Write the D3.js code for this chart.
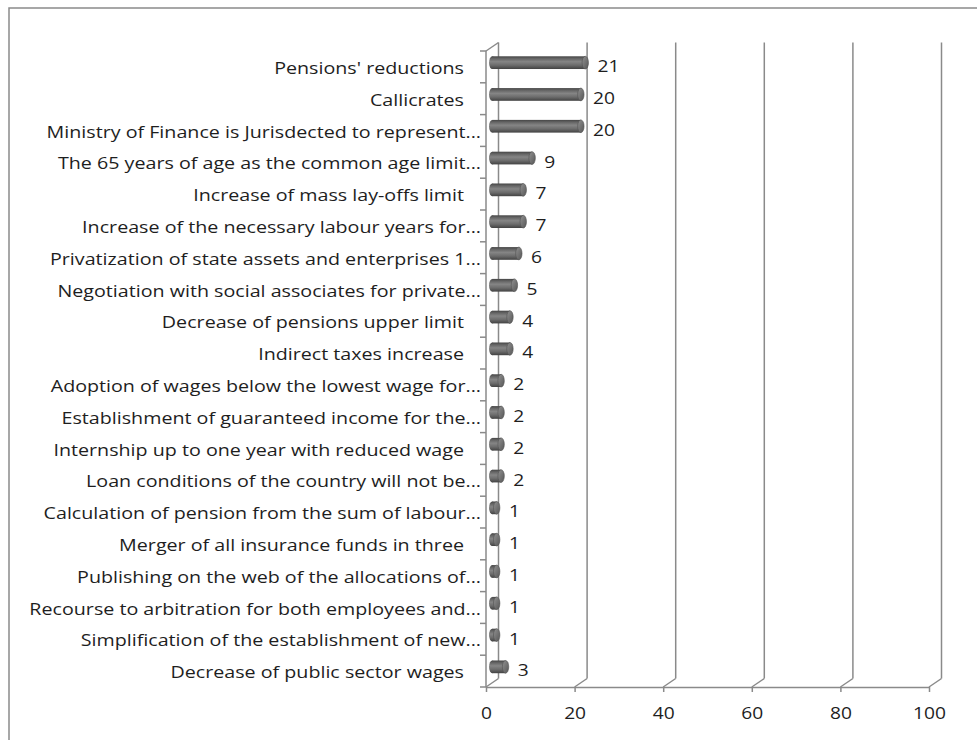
<!DOCTYPE html>
<html>
<head>
<meta charset="utf-8">
<script src="https://cdn.jsdelivr.net/npm/d3@7"></script>
<style>
  body { margin: 0; background: #fff; }
  svg text { font-family: "Open Sans", "Noto Sans", sans-serif; fill: #1e1e1e; }
</style>
</head>
<body>
<div id="chart"></div>
<script>
// data, top to bottom as shown
const categories = [
  "Pensions' reductions",
  "Callicrates",
  "Ministry of Finance is Jurisdected to represent...",
  "The 65 years of age as the common age limit...",
  "Increase of mass lay-offs limit",
  "Increase of the necessary labour years for...",
  "Privatization of state assets and enterprises 1...",
  "Negotiation with social associates for private...",
  "Decrease of pensions upper limit",
  "Indirect taxes increase",
  "Adoption of wages below the lowest wage for...",
  "Establishment of guaranteed income for the...",
  "Internship up to one year with reduced wage",
  "Loan conditions of the country will not be...",
  "Calculation of pension from the sum of labour...",
  "Merger of all insurance funds in three",
  "Publishing on the web of the allocations of...",
  "Recourse to arbitration for both employees and...",
  "Simplification of the establishment of new...",
  "Decrease of public sector wages"
];
const values = [21, 20, 20, 9, 7, 7, 6, 5, 4, 4, 2, 2, 2, 2, 1, 1, 1, 1, 1, 3];
const xTicks = [0, 20, 40, 60, 80, 100];

const W = 977, H = 740;
const stretch = 1.27;       // category text in the picture is wide
const numStretch = 1.2;
const depth = {dx: 12.5, dy: -8.5};
const gridColor = "#8a8a8a";

const svg = d3.select("#chart").append("svg")
  .attr("width", W).attr("height", H);

// frame (runs off the right and bottom edges)
svg.append("rect")
  .attr("x", 9).attr("y", 8)
  .attr("width", 1000).attr("height", 800)
  .attr("fill", "none").attr("stroke", gridColor).attr("stroke-width", 1.5);

const x = d3.scaleLinear().domain([0, 100]).range([486, 929]);
const y = d3.scaleBand().domain(categories).range([51, 687]);
const plotTop = y.range()[0], plotBottom = y.range()[1];

const defs = svg.append("defs");
const body = defs.append("linearGradient").attr("id", "barBody")
  .attr("x1", 0).attr("y1", 0).attr("x2", 0).attr("y2", 1);
[[0, "#454545"], [0.18, "#656565"], [0.42, "#858585"], [0.7, "#6c6c6c"], [1, "#424242"]]
  .forEach(s => body.append("stop").attr("offset", s[0]).attr("stop-color", s[1]));
const cap = defs.append("linearGradient").attr("id", "barCap")
  .attr("x1", 0).attr("y1", 0).attr("x2", 1).attr("y2", 1);
[[0, "#929292"], [1, "#565656"]]
  .forEach(s => cap.append("stop").attr("offset", s[0]).attr("stop-color", s[1]));

// back wall gridlines
const grid = svg.append("g").attr("stroke", gridColor).attr("stroke-width", 1.5).attr("fill", "none");
grid.selectAll(".back").data(xTicks).join("line")
  .attr("x1", d => x(d) + depth.dx).attr("x2", d => x(d) + depth.dx)
  .attr("y1", plotTop + depth.dy).attr("y2", plotBottom + depth.dy);
// floor connectors
grid.selectAll(".floor").data(xTicks).join("line")
  .attr("x1", d => x(d)).attr("y1", plotBottom)
  .attr("x2", d => x(d) + depth.dx).attr("y2", plotBottom + depth.dy);
// left wall: front edge and top connector
grid.append("line")
  .attr("x1", x(0)).attr("x2", x(0)).attr("y1", plotTop).attr("y2", plotBottom);
grid.append("line")
  .attr("x1", x(0)).attr("y1", plotTop)
  .attr("x2", x(0) + depth.dx).attr("y2", plotTop + depth.dy);
// category ticks on band boundaries
const bounds = categories.map(c => y(c)).concat([plotBottom]);
grid.selectAll(".ytick").data(bounds).join("line")
  .attr("x1", x(0) - 6).attr("x2", x(0))
  .attr("y1", d => d).attr("y2", d => d);

// bottom axis
const xAxis = svg.append("g")
  .attr("transform", `translate(0,${plotBottom})`)
  .call(d3.axisBottom(x).tickValues(xTicks).tickSize(5).tickSizeOuter(0).tickPadding(16));
xAxis.select(".domain").attr("stroke", gridColor).attr("stroke-width", 1.5);
xAxis.selectAll(".tick line").attr("stroke", gridColor).attr("stroke-width", 1.5);
xAxis.selectAll(".tick text")
  .attr("font-size", 16).attr("fill", "#1e1e1e")
  .attr("transform", `scale(${numStretch},1)`);

// cylinders, half way into the depth
const barH = y.bandwidth() * 0.4;
const rx = 3.2, ry = barH / 2;
const mid = {dx: depth.dx / 2, dy: depth.dy / 2};
const bars = svg.append("g").selectAll("g").data(categories).join("g")
  .attr("transform", d => `translate(0,${y(d) + y.bandwidth() / 2 + mid.dy})`);
bars.append("ellipse")
  .attr("cx", x(0) + mid.dx).attr("cy", 0).attr("rx", rx).attr("ry", ry)
  .attr("fill", "url(#barBody)");
bars.append("rect")
  .attr("x", x(0) + mid.dx).attr("y", -ry)
  .attr("width", (d, i) => x(values[i]) - x(0)).attr("height", barH)
  .attr("fill", "url(#barBody)");
bars.append("ellipse")
  .attr("cx", (d, i) => x(values[i]) + mid.dx).attr("cy", 0).attr("rx", rx).attr("ry", ry)
  .attr("fill", "url(#barCap)").attr("stroke", "#505050").attr("stroke-width", 0.6);

// value labels
svg.append("g").selectAll("text").data(categories).join("text")
  .attr("transform", (d, i) =>
    `translate(${x(values[i]) + mid.dx + rx + 9},${y(d) + y.bandwidth() / 2 - 1}) scale(${numStretch},1)`)
  .attr("dominant-baseline", "central")
  .attr("font-size", 16)
  .text((d, i) => values[i]);

// category labels
svg.append("g").selectAll("text").data(categories).join("text")
  .attr("transform", d => {
    const ex = d.endsWith("...") ? 481 : 464;
    return `translate(${ex},${y(d) + y.bandwidth() / 2 + 1}) scale(${stretch},1)`;
  })
  .attr("text-anchor", "end")
  .attr("dominant-baseline", "central")
  .attr("font-size", 15.5)
  .text(d => d);
</script>
</body>
</html>
